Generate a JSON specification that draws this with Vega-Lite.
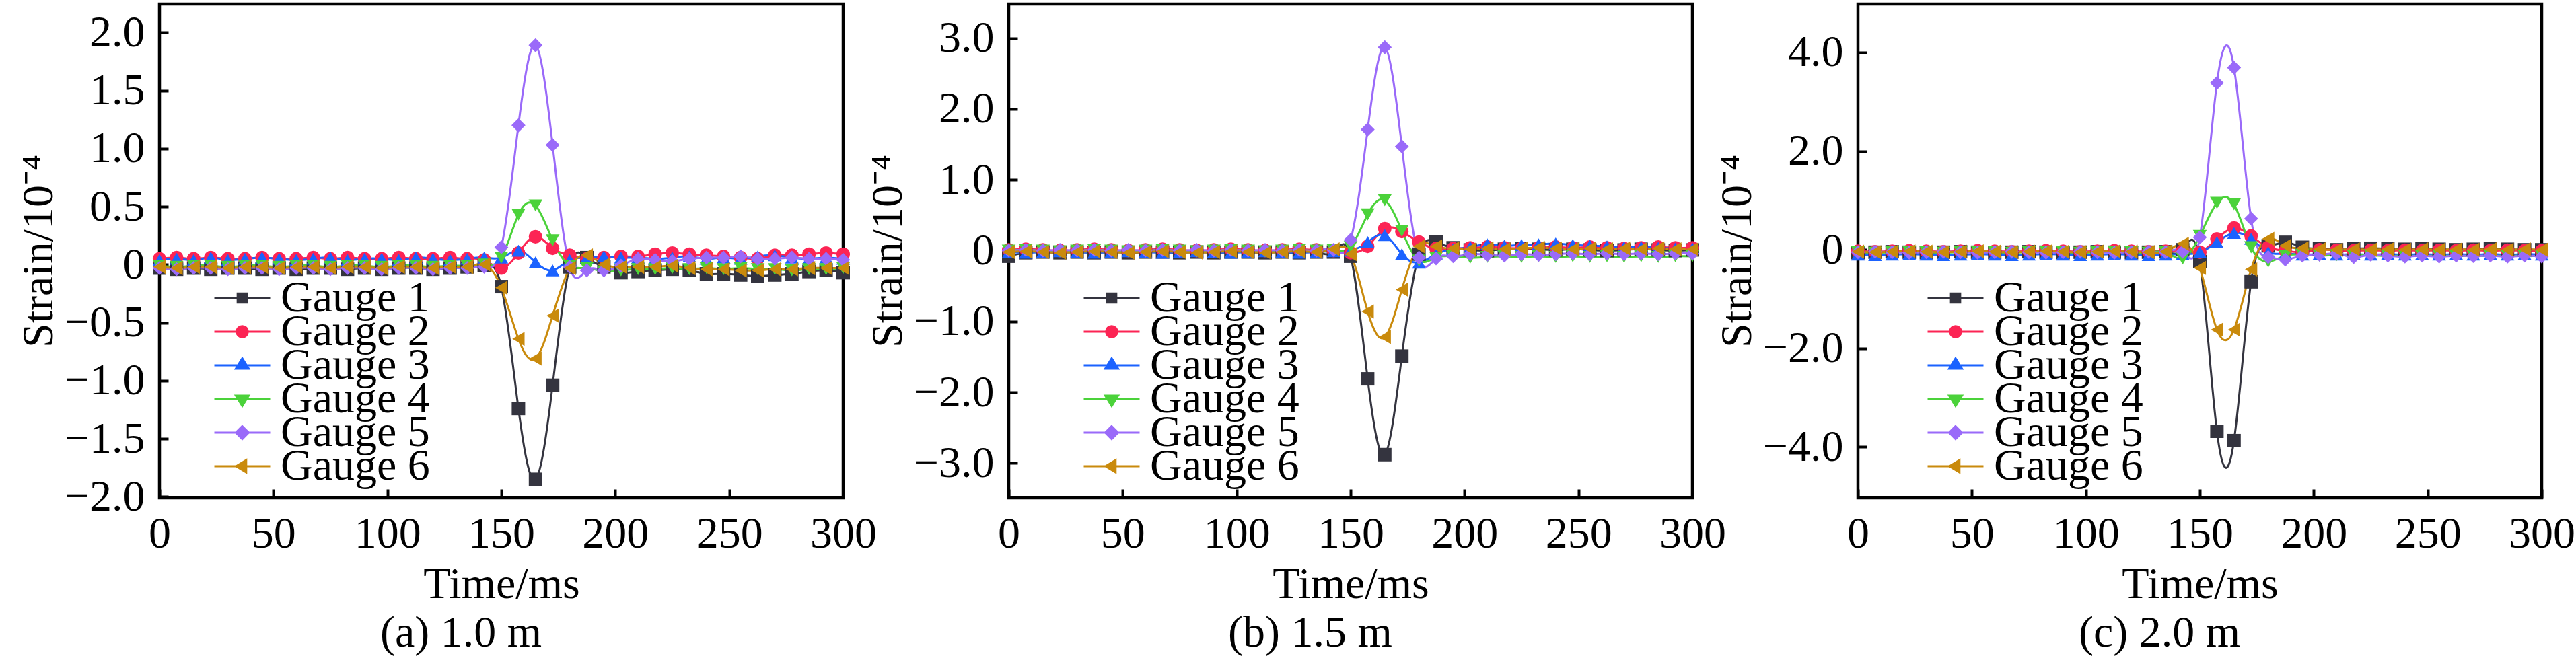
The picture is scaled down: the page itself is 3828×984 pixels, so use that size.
{
  "$schema": "https://vega.github.io/schema/vega-lite/v6.json",
  "padding": {"left": 22, "top": 3, "right": 0, "bottom": 4},
  "background": "white",
  "config": {
    "font": "Liberation Serif",
    "view": {"stroke": "black", "strokeWidth": 4.5},
    "axis": {
      "domain": false, "grid": false,
      "tickColor": "black", "tickWidth": 4, "tickSize": -13,
      "labelFont": "Liberation Serif", "labelFontSize": 66, "labelColor": "black",
      "labelFlush": false, "labelOverlap": false, "labelBound": false,
      "titleFont": "Liberation Serif", "titleFontSize": 66, "titleFontWeight": "normal", "titleColor": "black"
    },
    "axisX": {"labelPadding": 34, "titlePadding": 10, "titleFontWeight": "normal"},
    "axisY": {"labelPadding": 35, "titlePadding": 4, "titleFontWeight": "normal"},
    "title": {"font": "Liberation Serif", "fontSize": 66, "fontWeight": "normal", "color": "black", "orient": "bottom", "frame": "group", "dx": -60, "offset": 8},
    "legend": {
      "orient": "none", "direction": "vertical", "title": null, "padding": 0,
      "labelFont": "Liberation Serif", "labelFontSize": 66, "labelColor": "black", "labelOffset": 14, "labelLimit": 0,
      "symbolSize": 6889, "rowPadding": 0, "clipHeight": 100
    }
  },
  "datasets": {
    "a": [
      {"g":1,"t":0,"v":-0.03},{"g":1,"t":7.5,"v":-0.04},{"g":1,"t":15,"v":-0.03},{"g":1,"t":22.5,"v":-0.04},{"g":1,"t":30,"v":-0.03},{"g":1,"t":37.5,"v":-0.03},{"g":1,"t":45,"v":-0.04},{"g":1,"t":52.5,"v":-0.03},{"g":1,"t":60,"v":-0.04},{"g":1,"t":67.5,"v":-0.03},{"g":1,"t":75,"v":-0.03},{"g":1,"t":82.5,"v":-0.04},{"g":1,"t":90,"v":-0.03},{"g":1,"t":97.5,"v":-0.04},{"g":1,"t":105,"v":-0.03},{"g":1,"t":112.5,"v":-0.03},{"g":1,"t":120,"v":-0.04},{"g":1,"t":127.5,"v":-0.03},{"g":1,"t":135,"v":-0.02},{"g":1,"t":142.5,"v":-0.01},{"g":1,"t":150,"v":-0.19},{"g":1,"t":157.5,"v":-1.24},{"g":1,"t":165,"v":-1.85},{"g":1,"t":172.5,"v":-1.04},{"g":1,"t":180,"v":-0.02},{"g":1,"t":187.5,"v":0.06},{"g":1,"t":195,"v":-0.02},{"g":1,"t":202.5,"v":-0.07},{"g":1,"t":210,"v":-0.06},{"g":1,"t":217.5,"v":-0.05},{"g":1,"t":225,"v":-0.04},{"g":1,"t":232.5,"v":-0.05},{"g":1,"t":240,"v":-0.08},{"g":1,"t":247.5,"v":-0.08},{"g":1,"t":255,"v":-0.09},{"g":1,"t":262.5,"v":-0.1},{"g":1,"t":270,"v":-0.09},{"g":1,"t":277.5,"v":-0.08},{"g":1,"t":285,"v":-0.06},{"g":1,"t":292.5,"v":-0.05},{"g":1,"t":300,"v":-0.07},
      {"g":2,"t":0,"v":0.05},{"g":2,"t":7.5,"v":0.06},{"g":2,"t":15,"v":0.05},{"g":2,"t":22.5,"v":0.06},{"g":2,"t":30,"v":0.05},{"g":2,"t":37.5,"v":0.05},{"g":2,"t":45,"v":0.06},{"g":2,"t":52.5,"v":0.05},{"g":2,"t":60,"v":0.05},{"g":2,"t":67.5,"v":0.06},{"g":2,"t":75,"v":0.05},{"g":2,"t":82.5,"v":0.06},{"g":2,"t":90,"v":0.05},{"g":2,"t":97.5,"v":0.05},{"g":2,"t":105,"v":0.06},{"g":2,"t":112.5,"v":0.05},{"g":2,"t":120,"v":0.05},{"g":2,"t":127.5,"v":0.06},{"g":2,"t":135,"v":0.05},{"g":2,"t":142.5,"v":0.04},{"g":2,"t":150,"v":-0.03},{"g":2,"t":157.5,"v":0.1},{"g":2,"t":165,"v":0.24},{"g":2,"t":172.5,"v":0.14},{"g":2,"t":180,"v":0.08},{"g":2,"t":187.5,"v":0.05},{"g":2,"t":195,"v":0.06},{"g":2,"t":202.5,"v":0.07},{"g":2,"t":210,"v":0.07},{"g":2,"t":217.5,"v":0.09},{"g":2,"t":225,"v":0.1},{"g":2,"t":232.5,"v":0.09},{"g":2,"t":240,"v":0.08},{"g":2,"t":247.5,"v":0.07},{"g":2,"t":255,"v":0.06},{"g":2,"t":262.5,"v":0.05},{"g":2,"t":270,"v":0.08},{"g":2,"t":277.5,"v":0.08},{"g":2,"t":285,"v":0.09},{"g":2,"t":292.5,"v":0.1},{"g":2,"t":300,"v":0.09},
      {"g":3,"t":0,"v":0.04},{"g":3,"t":7.5,"v":0.05},{"g":3,"t":15,"v":0.04},{"g":3,"t":22.5,"v":0.06},{"g":3,"t":30,"v":0.04},{"g":3,"t":37.5,"v":0.05},{"g":3,"t":45,"v":0.06},{"g":3,"t":52.5,"v":0.05},{"g":3,"t":60,"v":0.04},{"g":3,"t":67.5,"v":0.05},{"g":3,"t":75,"v":0.06},{"g":3,"t":82.5,"v":0.04},{"g":3,"t":90,"v":0.05},{"g":3,"t":97.5,"v":0.05},{"g":3,"t":105,"v":0.04},{"g":3,"t":112.5,"v":0.06},{"g":3,"t":120,"v":0.05},{"g":3,"t":127.5,"v":0.04},{"g":3,"t":135,"v":0.05},{"g":3,"t":142.5,"v":0.06},{"g":3,"t":150,"v":0.06},{"g":3,"t":157.5,"v":0.12},{"g":3,"t":165,"v":0.02},{"g":3,"t":172.5,"v":-0.05},{"g":3,"t":180,"v":0.04},{"g":3,"t":187.5,"v":0.06},{"g":3,"t":195,"v":0.07},{"g":3,"t":202.5,"v":0.06},{"g":3,"t":210,"v":0.06},{"g":3,"t":217.5,"v":0.05},{"g":3,"t":225,"v":0.06},{"g":3,"t":232.5,"v":0.07},{"g":3,"t":240,"v":0.05},{"g":3,"t":247.5,"v":0.06},{"g":3,"t":255,"v":0.05},{"g":3,"t":262.5,"v":0.07},{"g":3,"t":270,"v":0.08},{"g":3,"t":277.5,"v":0.06},{"g":3,"t":285,"v":0.05},{"g":3,"t":292.5,"v":0.06},{"g":3,"t":300,"v":0.05},
      {"g":4,"t":0,"v":-0.01},{"g":4,"t":7.5,"v":-0.02},{"g":4,"t":15,"v":-0.01},{"g":4,"t":22.5,"v":-0.01},{"g":4,"t":30,"v":-0.02},{"g":4,"t":37.5,"v":-0.01},{"g":4,"t":45,"v":-0.01},{"g":4,"t":52.5,"v":-0.02},{"g":4,"t":60,"v":-0.01},{"g":4,"t":67.5,"v":-0.01},{"g":4,"t":75,"v":-0.02},{"g":4,"t":82.5,"v":-0.01},{"g":4,"t":90,"v":-0.01},{"g":4,"t":97.5,"v":-0.02},{"g":4,"t":105,"v":-0.01},{"g":4,"t":112.5,"v":-0.01},{"g":4,"t":120,"v":-0.02},{"g":4,"t":127.5,"v":-0.01},{"g":4,"t":135,"v":-0.01},{"g":4,"t":142.5,"v":0},{"g":4,"t":150,"v":0.06},{"g":4,"t":157.5,"v":0.43},{"g":4,"t":165,"v":0.51},{"g":4,"t":172.5,"v":0.21},{"g":4,"t":180,"v":-0.01},{"g":4,"t":187.5,"v":-0.03},{"g":4,"t":195,"v":-0.06},{"g":4,"t":202.5,"v":-0.05},{"g":4,"t":210,"v":-0.04},{"g":4,"t":217.5,"v":-0.04},{"g":4,"t":225,"v":-0.03},{"g":4,"t":232.5,"v":-0.04},{"g":4,"t":240,"v":-0.03},{"g":4,"t":247.5,"v":-0.04},{"g":4,"t":255,"v":-0.03},{"g":4,"t":262.5,"v":-0.04},{"g":4,"t":270,"v":-0.04},{"g":4,"t":277.5,"v":-0.05},{"g":4,"t":285,"v":-0.04},{"g":4,"t":292.5,"v":-0.04},{"g":4,"t":300,"v":-0.03},
      {"g":5,"t":0,"v":-0.03},{"g":5,"t":7.5,"v":-0.04},{"g":5,"t":15,"v":-0.03},{"g":5,"t":22.5,"v":-0.03},{"g":5,"t":30,"v":-0.04},{"g":5,"t":37.5,"v":-0.03},{"g":5,"t":45,"v":-0.03},{"g":5,"t":52.5,"v":-0.04},{"g":5,"t":60,"v":-0.03},{"g":5,"t":67.5,"v":-0.03},{"g":5,"t":75,"v":-0.04},{"g":5,"t":82.5,"v":-0.03},{"g":5,"t":90,"v":-0.03},{"g":5,"t":97.5,"v":-0.04},{"g":5,"t":105,"v":-0.03},{"g":5,"t":112.5,"v":-0.03},{"g":5,"t":120,"v":-0.04},{"g":5,"t":127.5,"v":-0.03},{"g":5,"t":135,"v":-0.03},{"g":5,"t":142.5,"v":-0.02},{"g":5,"t":150,"v":0.15},{"g":5,"t":157.5,"v":1.2},{"g":5,"t":165,"v":1.89},{"g":5,"t":172.5,"v":1.03},{"g":5,"t":180,"v":-0.02},{"g":5,"t":187.5,"v":-0.05},{"g":5,"t":195,"v":-0.05},{"g":5,"t":202.5,"v":-0.01},{"g":5,"t":210,"v":0.05},{"g":5,"t":217.5,"v":0.04},{"g":5,"t":225,"v":0.03},{"g":5,"t":232.5,"v":0.05},{"g":5,"t":240,"v":0.06},{"g":5,"t":247.5,"v":0.06},{"g":5,"t":255,"v":0.07},{"g":5,"t":262.5,"v":0.05},{"g":5,"t":270,"v":0.05},{"g":5,"t":277.5,"v":0.06},{"g":5,"t":285,"v":0.05},{"g":5,"t":292.5,"v":0.05},{"g":5,"t":300,"v":0.04},
      {"g":6,"t":0,"v":-0.02},{"g":6,"t":7.5,"v":-0.03},{"g":6,"t":15,"v":-0.02},{"g":6,"t":22.5,"v":-0.02},{"g":6,"t":30,"v":-0.03},{"g":6,"t":37.5,"v":-0.02},{"g":6,"t":45,"v":-0.02},{"g":6,"t":52.5,"v":-0.03},{"g":6,"t":60,"v":-0.02},{"g":6,"t":67.5,"v":-0.02},{"g":6,"t":75,"v":-0.03},{"g":6,"t":82.5,"v":-0.02},{"g":6,"t":90,"v":-0.02},{"g":6,"t":97.5,"v":-0.03},{"g":6,"t":105,"v":-0.02},{"g":6,"t":112.5,"v":-0.02},{"g":6,"t":120,"v":-0.03},{"g":6,"t":127.5,"v":-0.02},{"g":6,"t":135,"v":-0.02},{"g":6,"t":142.5,"v":0},{"g":6,"t":150,"v":-0.2},{"g":6,"t":157.5,"v":-0.64},{"g":6,"t":165,"v":-0.81},{"g":6,"t":172.5,"v":-0.44},{"g":6,"t":180,"v":-0.03},{"g":6,"t":187.5,"v":0.08},{"g":6,"t":195,"v":0},{"g":6,"t":202.5,"v":-0.02},{"g":6,"t":210,"v":-0.02},{"g":6,"t":217.5,"v":-0.02},{"g":6,"t":225,"v":-0.01},{"g":6,"t":232.5,"v":-0.03},{"g":6,"t":240,"v":-0.04},{"g":6,"t":247.5,"v":-0.04},{"g":6,"t":255,"v":-0.05},{"g":6,"t":262.5,"v":-0.05},{"g":6,"t":270,"v":-0.04},{"g":6,"t":277.5,"v":-0.04},{"g":6,"t":285,"v":-0.03},{"g":6,"t":292.5,"v":-0.03},{"g":6,"t":300,"v":-0.03}
    ],
    "b": [
      {"g":1,"t":0,"v":-0.08},{"g":1,"t":7.5,"v":-0.03},{"g":1,"t":15,"v":-0.02},{"g":1,"t":22.5,"v":-0.03},{"g":1,"t":30,"v":-0.02},{"g":1,"t":37.5,"v":-0.03},{"g":1,"t":45,"v":-0.02},{"g":1,"t":52.5,"v":-0.03},{"g":1,"t":60,"v":-0.02},{"g":1,"t":67.5,"v":-0.02},{"g":1,"t":75,"v":-0.03},{"g":1,"t":82.5,"v":-0.02},{"g":1,"t":90,"v":-0.03},{"g":1,"t":97.5,"v":-0.02},{"g":1,"t":105,"v":-0.02},{"g":1,"t":112.5,"v":-0.03},{"g":1,"t":120,"v":-0.02},{"g":1,"t":127.5,"v":-0.03},{"g":1,"t":135,"v":-0.02},{"g":1,"t":142.5,"v":-0.02},{"g":1,"t":150,"v":-0.08},{"g":1,"t":157.5,"v":-1.81},{"g":1,"t":165,"v":-2.88},{"g":1,"t":172.5,"v":-1.49},{"g":1,"t":180,"v":-0.05},{"g":1,"t":187.5,"v":0.12},{"g":1,"t":195,"v":0.04},{"g":1,"t":202.5,"v":0.01},{"g":1,"t":210,"v":0},{"g":1,"t":217.5,"v":0.02},{"g":1,"t":225,"v":0.03},{"g":1,"t":232.5,"v":0.02},{"g":1,"t":240,"v":0.01},{"g":1,"t":247.5,"v":0.02},{"g":1,"t":255,"v":0.01},{"g":1,"t":262.5,"v":0},{"g":1,"t":270,"v":0.01},{"g":1,"t":277.5,"v":0.02},{"g":1,"t":285,"v":0.01},{"g":1,"t":292.5,"v":0},{"g":1,"t":300,"v":0.01},
      {"g":2,"t":0,"v":0.01},{"g":2,"t":7.5,"v":0.02},{"g":2,"t":15,"v":0.01},{"g":2,"t":22.5,"v":0},{"g":2,"t":30,"v":0.01},{"g":2,"t":37.5,"v":0.02},{"g":2,"t":45,"v":0.01},{"g":2,"t":52.5,"v":0},{"g":2,"t":60,"v":0.01},{"g":2,"t":67.5,"v":0.02},{"g":2,"t":75,"v":0.01},{"g":2,"t":82.5,"v":0},{"g":2,"t":90,"v":0.01},{"g":2,"t":97.5,"v":0.02},{"g":2,"t":105,"v":0.01},{"g":2,"t":112.5,"v":0},{"g":2,"t":120,"v":0.01},{"g":2,"t":127.5,"v":0.02},{"g":2,"t":135,"v":0.01},{"g":2,"t":142.5,"v":0},{"g":2,"t":150,"v":-0.03},{"g":2,"t":157.5,"v":0.06},{"g":2,"t":165,"v":0.31},{"g":2,"t":172.5,"v":0.27},{"g":2,"t":180,"v":0.12},{"g":2,"t":187.5,"v":0.03},{"g":2,"t":195,"v":0.03},{"g":2,"t":202.5,"v":0.04},{"g":2,"t":210,"v":0.05},{"g":2,"t":217.5,"v":0.04},{"g":2,"t":225,"v":0.03},{"g":2,"t":232.5,"v":0.04},{"g":2,"t":240,"v":0.05},{"g":2,"t":247.5,"v":0.04},{"g":2,"t":255,"v":0.05},{"g":2,"t":262.5,"v":0.04},{"g":2,"t":270,"v":0.03},{"g":2,"t":277.5,"v":0.04},{"g":2,"t":285,"v":0.05},{"g":2,"t":292.5,"v":0.04},{"g":2,"t":300,"v":0.04},
      {"g":3,"t":0,"v":-0.02},{"g":3,"t":7.5,"v":-0.03},{"g":3,"t":15,"v":-0.02},{"g":3,"t":22.5,"v":-0.01},{"g":3,"t":30,"v":-0.02},{"g":3,"t":37.5,"v":-0.03},{"g":3,"t":45,"v":-0.02},{"g":3,"t":52.5,"v":-0.01},{"g":3,"t":60,"v":-0.02},{"g":3,"t":67.5,"v":-0.03},{"g":3,"t":75,"v":-0.02},{"g":3,"t":82.5,"v":-0.01},{"g":3,"t":90,"v":-0.02},{"g":3,"t":97.5,"v":-0.03},{"g":3,"t":105,"v":-0.02},{"g":3,"t":112.5,"v":-0.01},{"g":3,"t":120,"v":-0.02},{"g":3,"t":127.5,"v":-0.03},{"g":3,"t":135,"v":-0.02},{"g":3,"t":142.5,"v":-0.01},{"g":3,"t":150,"v":0},{"g":3,"t":157.5,"v":0.12},{"g":3,"t":165,"v":0.22},{"g":3,"t":172.5,"v":-0.05},{"g":3,"t":180,"v":-0.17},{"g":3,"t":187.5,"v":-0.05},{"g":3,"t":195,"v":0.02},{"g":3,"t":202.5,"v":0.05},{"g":3,"t":210,"v":0.09},{"g":3,"t":217.5,"v":0.07},{"g":3,"t":225,"v":0.08},{"g":3,"t":232.5,"v":0.09},{"g":3,"t":240,"v":0.1},{"g":3,"t":247.5,"v":0.08},{"g":3,"t":255,"v":0.07},{"g":3,"t":262.5,"v":0.06},{"g":3,"t":270,"v":0.05},{"g":3,"t":277.5,"v":0.05},{"g":3,"t":285,"v":0.04},{"g":3,"t":292.5,"v":0.03},{"g":3,"t":300,"v":0.03},
      {"g":4,"t":0,"v":0},{"g":4,"t":7.5,"v":0.01},{"g":4,"t":15,"v":0},{"g":4,"t":22.5,"v":-0.01},{"g":4,"t":30,"v":0},{"g":4,"t":37.5,"v":0.01},{"g":4,"t":45,"v":0},{"g":4,"t":52.5,"v":-0.01},{"g":4,"t":60,"v":0},{"g":4,"t":67.5,"v":0.01},{"g":4,"t":75,"v":0},{"g":4,"t":82.5,"v":-0.01},{"g":4,"t":90,"v":0},{"g":4,"t":97.5,"v":0.01},{"g":4,"t":105,"v":0},{"g":4,"t":112.5,"v":-0.01},{"g":4,"t":120,"v":0},{"g":4,"t":127.5,"v":0.01},{"g":4,"t":135,"v":0},{"g":4,"t":142.5,"v":0.01},{"g":4,"t":150,"v":0.05},{"g":4,"t":157.5,"v":0.51},{"g":4,"t":165,"v":0.71},{"g":4,"t":172.5,"v":0.28},{"g":4,"t":180,"v":-0.14},{"g":4,"t":187.5,"v":-0.1},{"g":4,"t":195,"v":-0.08},{"g":4,"t":202.5,"v":-0.1},{"g":4,"t":210,"v":-0.09},{"g":4,"t":217.5,"v":-0.08},{"g":4,"t":225,"v":-0.09},{"g":4,"t":232.5,"v":-0.08},{"g":4,"t":240,"v":-0.09},{"g":4,"t":247.5,"v":-0.08},{"g":4,"t":255,"v":-0.09},{"g":4,"t":262.5,"v":-0.08},{"g":4,"t":270,"v":-0.09},{"g":4,"t":277.5,"v":-0.08},{"g":4,"t":285,"v":-0.09},{"g":4,"t":292.5,"v":-0.08},{"g":4,"t":300,"v":-0.08},
      {"g":5,"t":0,"v":0},{"g":5,"t":7.5,"v":0.01},{"g":5,"t":15,"v":0},{"g":5,"t":22.5,"v":0.01},{"g":5,"t":30,"v":0},{"g":5,"t":37.5,"v":0.01},{"g":5,"t":45,"v":0},{"g":5,"t":52.5,"v":0.01},{"g":5,"t":60,"v":0},{"g":5,"t":67.5,"v":0.01},{"g":5,"t":75,"v":0},{"g":5,"t":82.5,"v":0.01},{"g":5,"t":90,"v":0},{"g":5,"t":97.5,"v":0.01},{"g":5,"t":105,"v":0},{"g":5,"t":112.5,"v":0.01},{"g":5,"t":120,"v":0},{"g":5,"t":127.5,"v":0.01},{"g":5,"t":135,"v":0},{"g":5,"t":142.5,"v":0.01},{"g":5,"t":150,"v":0.15},{"g":5,"t":157.5,"v":1.71},{"g":5,"t":165,"v":2.87},{"g":5,"t":172.5,"v":1.47},{"g":5,"t":180,"v":-0.1},{"g":5,"t":187.5,"v":-0.11},{"g":5,"t":195,"v":-0.08},{"g":5,"t":202.5,"v":-0.05},{"g":5,"t":210,"v":-0.06},{"g":5,"t":217.5,"v":-0.07},{"g":5,"t":225,"v":-0.05},{"g":5,"t":232.5,"v":-0.06},{"g":5,"t":240,"v":-0.05},{"g":5,"t":247.5,"v":-0.04},{"g":5,"t":255,"v":-0.05},{"g":5,"t":262.5,"v":-0.04},{"g":5,"t":270,"v":-0.05},{"g":5,"t":277.5,"v":-0.04},{"g":5,"t":285,"v":-0.05},{"g":5,"t":292.5,"v":-0.04},{"g":5,"t":300,"v":-0.04},
      {"g":6,"t":0,"v":-0.02},{"g":6,"t":7.5,"v":-0.01},{"g":6,"t":15,"v":-0.02},{"g":6,"t":22.5,"v":-0.03},{"g":6,"t":30,"v":-0.02},{"g":6,"t":37.5,"v":-0.01},{"g":6,"t":45,"v":-0.02},{"g":6,"t":52.5,"v":-0.03},{"g":6,"t":60,"v":-0.02},{"g":6,"t":67.5,"v":-0.01},{"g":6,"t":75,"v":-0.02},{"g":6,"t":82.5,"v":-0.03},{"g":6,"t":90,"v":-0.02},{"g":6,"t":97.5,"v":-0.01},{"g":6,"t":105,"v":-0.02},{"g":6,"t":112.5,"v":-0.03},{"g":6,"t":120,"v":-0.02},{"g":6,"t":127.5,"v":-0.01},{"g":6,"t":135,"v":-0.02},{"g":6,"t":142.5,"v":0.02},{"g":6,"t":150,"v":-0.05},{"g":6,"t":157.5,"v":-0.86},{"g":6,"t":165,"v":-1.22},{"g":6,"t":172.5,"v":-0.55},{"g":6,"t":180,"v":0.06},{"g":6,"t":187.5,"v":0.06},{"g":6,"t":195,"v":0.03},{"g":6,"t":202.5,"v":0.02},{"g":6,"t":210,"v":0.03},{"g":6,"t":217.5,"v":0.02},{"g":6,"t":225,"v":0.03},{"g":6,"t":232.5,"v":0.04},{"g":6,"t":240,"v":0.03},{"g":6,"t":247.5,"v":0.02},{"g":6,"t":255,"v":0.03},{"g":6,"t":262.5,"v":0.02},{"g":6,"t":270,"v":0.03},{"g":6,"t":277.5,"v":0.02},{"g":6,"t":285,"v":0.03},{"g":6,"t":292.5,"v":0.02},{"g":6,"t":300,"v":0.02}
    ],
    "c": [
      {"g":1,"t":0,"v":-0.06},{"g":1,"t":7.5,"v":-0.05},{"g":1,"t":15,"v":-0.04},{"g":1,"t":22.5,"v":-0.05},{"g":1,"t":30,"v":-0.06},{"g":1,"t":37.5,"v":-0.05},{"g":1,"t":45,"v":-0.04},{"g":1,"t":52.5,"v":-0.05},{"g":1,"t":60,"v":-0.06},{"g":1,"t":67.5,"v":-0.05},{"g":1,"t":75,"v":-0.04},{"g":1,"t":82.5,"v":-0.05},{"g":1,"t":90,"v":-0.06},{"g":1,"t":97.5,"v":-0.05},{"g":1,"t":105,"v":-0.04},{"g":1,"t":112.5,"v":-0.05},{"g":1,"t":120,"v":-0.06},{"g":1,"t":127.5,"v":-0.05},{"g":1,"t":135,"v":-0.04},{"g":1,"t":142.5,"v":0},{"g":1,"t":150,"v":-0.24},{"g":1,"t":157.5,"v":-3.68},{"g":1,"t":165,"v":-3.87},{"g":1,"t":172.5,"v":-0.65},{"g":1,"t":180,"v":0.08},{"g":1,"t":187.5,"v":0.15},{"g":1,"t":195,"v":0.05},{"g":1,"t":202.5,"v":0.02},{"g":1,"t":210,"v":0},{"g":1,"t":217.5,"v":0.02},{"g":1,"t":225,"v":0.03},{"g":1,"t":232.5,"v":0.02},{"g":1,"t":240,"v":0.01},{"g":1,"t":247.5,"v":0.02},{"g":1,"t":255,"v":0.01},{"g":1,"t":262.5,"v":0},{"g":1,"t":270,"v":0.01},{"g":1,"t":277.5,"v":0.02},{"g":1,"t":285,"v":0.01},{"g":1,"t":292.5,"v":0},{"g":1,"t":300,"v":0},
      {"g":2,"t":0,"v":-0.03},{"g":2,"t":7.5,"v":-0.04},{"g":2,"t":15,"v":-0.03},{"g":2,"t":22.5,"v":-0.02},{"g":2,"t":30,"v":-0.03},{"g":2,"t":37.5,"v":-0.04},{"g":2,"t":45,"v":-0.03},{"g":2,"t":52.5,"v":-0.02},{"g":2,"t":60,"v":-0.03},{"g":2,"t":67.5,"v":-0.04},{"g":2,"t":75,"v":-0.03},{"g":2,"t":82.5,"v":-0.02},{"g":2,"t":90,"v":-0.03},{"g":2,"t":97.5,"v":-0.04},{"g":2,"t":105,"v":-0.03},{"g":2,"t":112.5,"v":-0.02},{"g":2,"t":120,"v":-0.03},{"g":2,"t":127.5,"v":-0.04},{"g":2,"t":135,"v":-0.03},{"g":2,"t":142.5,"v":-0.02},{"g":2,"t":150,"v":-0.05},{"g":2,"t":157.5,"v":0.22},{"g":2,"t":165,"v":0.44},{"g":2,"t":172.5,"v":0.28},{"g":2,"t":180,"v":0.05},{"g":2,"t":187.5,"v":-0.02},{"g":2,"t":195,"v":-0.05},{"g":2,"t":202.5,"v":0},{"g":2,"t":210,"v":-0.01},{"g":2,"t":217.5,"v":-0.02},{"g":2,"t":225,"v":-0.01},{"g":2,"t":232.5,"v":-0.02},{"g":2,"t":240,"v":-0.01},{"g":2,"t":247.5,"v":-0.02},{"g":2,"t":255,"v":-0.01},{"g":2,"t":262.5,"v":-0.02},{"g":2,"t":270,"v":-0.01},{"g":2,"t":277.5,"v":-0.02},{"g":2,"t":285,"v":-0.01},{"g":2,"t":292.5,"v":-0.02},{"g":2,"t":300,"v":-0.02},
      {"g":3,"t":0,"v":-0.1},{"g":3,"t":7.5,"v":-0.11},{"g":3,"t":15,"v":-0.1},{"g":3,"t":22.5,"v":-0.09},{"g":3,"t":30,"v":-0.1},{"g":3,"t":37.5,"v":-0.11},{"g":3,"t":45,"v":-0.1},{"g":3,"t":52.5,"v":-0.09},{"g":3,"t":60,"v":-0.1},{"g":3,"t":67.5,"v":-0.11},{"g":3,"t":75,"v":-0.1},{"g":3,"t":82.5,"v":-0.09},{"g":3,"t":90,"v":-0.1},{"g":3,"t":97.5,"v":-0.11},{"g":3,"t":105,"v":-0.1},{"g":3,"t":112.5,"v":-0.09},{"g":3,"t":120,"v":-0.1},{"g":3,"t":127.5,"v":-0.11},{"g":3,"t":135,"v":-0.1},{"g":3,"t":142.5,"v":-0.09},{"g":3,"t":150,"v":-0.05},{"g":3,"t":157.5,"v":0.15},{"g":3,"t":165,"v":0.34},{"g":3,"t":172.5,"v":0.22},{"g":3,"t":180,"v":-0.05},{"g":3,"t":187.5,"v":-0.08},{"g":3,"t":195,"v":-0.1},{"g":3,"t":202.5,"v":-0.09},{"g":3,"t":210,"v":-0.1},{"g":3,"t":217.5,"v":-0.09},{"g":3,"t":225,"v":-0.1},{"g":3,"t":232.5,"v":-0.09},{"g":3,"t":240,"v":-0.1},{"g":3,"t":247.5,"v":-0.09},{"g":3,"t":255,"v":-0.1},{"g":3,"t":262.5,"v":-0.09},{"g":3,"t":270,"v":-0.1},{"g":3,"t":277.5,"v":-0.09},{"g":3,"t":285,"v":-0.1},{"g":3,"t":292.5,"v":-0.09},{"g":3,"t":300,"v":-0.1},
      {"g":4,"t":0,"v":-0.05},{"g":4,"t":7.5,"v":-0.06},{"g":4,"t":15,"v":-0.05},{"g":4,"t":22.5,"v":-0.04},{"g":4,"t":30,"v":-0.05},{"g":4,"t":37.5,"v":-0.06},{"g":4,"t":45,"v":-0.05},{"g":4,"t":52.5,"v":-0.04},{"g":4,"t":60,"v":-0.05},{"g":4,"t":67.5,"v":-0.06},{"g":4,"t":75,"v":-0.05},{"g":4,"t":82.5,"v":-0.04},{"g":4,"t":90,"v":-0.05},{"g":4,"t":97.5,"v":-0.06},{"g":4,"t":105,"v":-0.05},{"g":4,"t":112.5,"v":-0.04},{"g":4,"t":120,"v":-0.05},{"g":4,"t":127.5,"v":-0.06},{"g":4,"t":135,"v":-0.05},{"g":4,"t":142.5,"v":-0.18},{"g":4,"t":150,"v":0.28},{"g":4,"t":157.5,"v":0.95},{"g":4,"t":165,"v":0.92},{"g":4,"t":172.5,"v":0.05},{"g":4,"t":180,"v":-0.24},{"g":4,"t":187.5,"v":-0.12},{"g":4,"t":195,"v":-0.1},{"g":4,"t":202.5,"v":-0.12},{"g":4,"t":210,"v":-0.11},{"g":4,"t":217.5,"v":-0.12},{"g":4,"t":225,"v":-0.11},{"g":4,"t":232.5,"v":-0.13},{"g":4,"t":240,"v":-0.12},{"g":4,"t":247.5,"v":-0.13},{"g":4,"t":255,"v":-0.12},{"g":4,"t":262.5,"v":-0.13},{"g":4,"t":270,"v":-0.12},{"g":4,"t":277.5,"v":-0.13},{"g":4,"t":285,"v":-0.12},{"g":4,"t":292.5,"v":-0.13},{"g":4,"t":300,"v":-0.12},
      {"g":5,"t":0,"v":-0.05},{"g":5,"t":7.5,"v":-0.04},{"g":5,"t":15,"v":-0.05},{"g":5,"t":22.5,"v":-0.06},{"g":5,"t":30,"v":-0.05},{"g":5,"t":37.5,"v":-0.04},{"g":5,"t":45,"v":-0.05},{"g":5,"t":52.5,"v":-0.06},{"g":5,"t":60,"v":-0.05},{"g":5,"t":67.5,"v":-0.04},{"g":5,"t":75,"v":-0.05},{"g":5,"t":82.5,"v":-0.06},{"g":5,"t":90,"v":-0.05},{"g":5,"t":97.5,"v":-0.04},{"g":5,"t":105,"v":-0.05},{"g":5,"t":112.5,"v":-0.06},{"g":5,"t":120,"v":-0.05},{"g":5,"t":127.5,"v":-0.04},{"g":5,"t":135,"v":-0.05},{"g":5,"t":142.5,"v":-0.04},{"g":5,"t":150,"v":0.25},{"g":5,"t":157.5,"v":3.38},{"g":5,"t":165,"v":3.69},{"g":5,"t":172.5,"v":0.63},{"g":5,"t":180,"v":-0.15},{"g":5,"t":187.5,"v":-0.2},{"g":5,"t":195,"v":-0.12},{"g":5,"t":202.5,"v":-0.1},{"g":5,"t":210,"v":-0.08},{"g":5,"t":217.5,"v":-0.15},{"g":5,"t":225,"v":-0.1},{"g":5,"t":232.5,"v":-0.12},{"g":5,"t":240,"v":-0.14},{"g":5,"t":247.5,"v":-0.12},{"g":5,"t":255,"v":-0.14},{"g":5,"t":262.5,"v":-0.12},{"g":5,"t":270,"v":-0.13},{"g":5,"t":277.5,"v":-0.12},{"g":5,"t":285,"v":-0.14},{"g":5,"t":292.5,"v":-0.12},{"g":5,"t":300,"v":-0.14},
      {"g":6,"t":0,"v":-0.04},{"g":6,"t":7.5,"v":-0.05},{"g":6,"t":15,"v":-0.04},{"g":6,"t":22.5,"v":-0.03},{"g":6,"t":30,"v":-0.04},{"g":6,"t":37.5,"v":-0.05},{"g":6,"t":45,"v":-0.04},{"g":6,"t":52.5,"v":-0.03},{"g":6,"t":60,"v":-0.04},{"g":6,"t":67.5,"v":-0.05},{"g":6,"t":75,"v":-0.04},{"g":6,"t":82.5,"v":-0.03},{"g":6,"t":90,"v":-0.04},{"g":6,"t":97.5,"v":-0.05},{"g":6,"t":105,"v":-0.04},{"g":6,"t":112.5,"v":-0.03},{"g":6,"t":120,"v":-0.04},{"g":6,"t":127.5,"v":-0.05},{"g":6,"t":135,"v":-0.04},{"g":6,"t":142.5,"v":0.12},{"g":6,"t":150,"v":-0.37},{"g":6,"t":157.5,"v":-1.62},{"g":6,"t":165,"v":-1.62},{"g":6,"t":172.5,"v":-0.4},{"g":6,"t":180,"v":0.22},{"g":6,"t":187.5,"v":0.08},{"g":6,"t":195,"v":0.03},{"g":6,"t":202.5,"v":0.01},{"g":6,"t":210,"v":0},{"g":6,"t":217.5,"v":0.01},{"g":6,"t":225,"v":0},{"g":6,"t":232.5,"v":0.01},{"g":6,"t":240,"v":0},{"g":6,"t":247.5,"v":0.01},{"g":6,"t":255,"v":0},{"g":6,"t":262.5,"v":0.01},{"g":6,"t":270,"v":0},{"g":6,"t":277.5,"v":0.01},{"g":6,"t":285,"v":0},{"g":6,"t":292.5,"v":0.01},{"g":6,"t":300,"v":0}
    ]
  },
  "spacing": 246,
  "bounds": "flush",
  "resolve": {
    "scale": {"x": "independent", "y": "independent"},
    "legend": {"stroke": "independent", "fill": "independent"}
  },
  "hconcat": [
    {
      "title": {"text": "(a) 1.0 m"},
      "width": 1016, "height": 734,
      "data": {"name": "a"},
      "encoding": {
        "x": {"field": "t", "type": "quantitative", "scale": {"domain": [0, 300], "nice": false}, "axis": {"values": [0, 50, 100, 150, 200, 250, 300], "title": "Time/ms", "titleFontWeight": "normal"}},
        "y": {"field": "v", "type": "quantitative", "scale": {"domain": [-2.01, 2.245], "nice": false, "zero": false}, "axis": {"values": [-2, -1.5, -1, -0.5, 0, 0.5, 1, 1.5, 2], "title": "Strain/10⁻⁴", "titleFontWeight": "normal", "labelExpr": "datum.value == 0 ? '0' : format(datum.value, '.1f')"}}
      },
      "layer": [
        {
          "mark": {"type": "line", "interpolate": "natural", "strokeWidth": 3},
          "encoding": {
            "stroke": {"field": "g", "type": "nominal", "scale": {"domain": [1, 2, 3, 4, 5, 6], "range": ["#34343f", "#fc2454", "#1b62ff", "#4bd23a", "#9a6af9", "#c98a0c"]}, "legend": {
              "legendX": 80, "legendY": 387, "values": [1, 3, 5],
              "labelExpr": "'Gauge ' + datum.label",
              "encoding": {"symbols": {
                "shape": {"value": {"expr": "datum.value == 1 ? 'M-1,0H1M-0.165,-0.165H0.165V0.165H-0.165Z' : datum.value == 2 ? 'M-1,0H1M0.2,0A0.2,0.2,0,1,1,-0.2,0A0.2,0.2,0,1,1,0.2,0Z' : datum.value == 3 ? 'M-1,0H1M0,-0.25L0.23,0.12H-0.23Z' : datum.value == 4 ? 'M-1,0H1M0,0.25L0.23,-0.12H-0.23Z' : datum.value == 5 ? 'M-1,0H1M0,-0.23L0.23,0L0,0.23L-0.23,0Z' : 'M-1,0H1M-0.22,0L0.14,-0.22V0.22Z'"}},
                "fill": {"value": {"expr": "['#34343f', '#fc2454', '#1b62ff', '#4bd23a', '#9a6af9', '#c98a0c'][datum.value - 1]"}},
                "stroke": {"value": {"expr": "['#34343f', '#fc2454', '#1b62ff', '#4bd23a', '#9a6af9', '#c98a0c'][datum.value - 1]"}},
                "strokeWidth": {"value": 3},
                "opacity": {"value": 1}
              }}
            }}
          }
        },
        {
          "mark": {"type": "point", "filled": true, "opacity": 1},
          "encoding": {
            "fill": {"field": "g", "type": "nominal", "scale": {"domain": [2, 4, 6, 1, 3, 5], "range": ["#fc2454", "#4bd23a", "#c98a0c", "#34343f", "#1b62ff", "#9a6af9"]}, "legend": {
              "legendX": 80, "legendY": 437, "values": [2, 4, 6],
              "labelExpr": "'Gauge ' + datum.label",
              "encoding": {"symbols": {
                "shape": {"value": {"expr": "datum.value == 1 ? 'M-1,0H1M-0.165,-0.165H0.165V0.165H-0.165Z' : datum.value == 2 ? 'M-1,0H1M0.2,0A0.2,0.2,0,1,1,-0.2,0A0.2,0.2,0,1,1,0.2,0Z' : datum.value == 3 ? 'M-1,0H1M0,-0.25L0.23,0.12H-0.23Z' : datum.value == 4 ? 'M-1,0H1M0,0.25L0.23,-0.12H-0.23Z' : datum.value == 5 ? 'M-1,0H1M0,-0.23L0.23,0L0,0.23L-0.23,0Z' : 'M-1,0H1M-0.22,0L0.14,-0.22V0.22Z'"}},
                "fill": {"value": {"expr": "['#34343f', '#fc2454', '#1b62ff', '#4bd23a', '#9a6af9', '#c98a0c'][datum.value - 1]"}},
                "stroke": {"value": {"expr": "['#34343f', '#fc2454', '#1b62ff', '#4bd23a', '#9a6af9', '#c98a0c'][datum.value - 1]"}},
                "strokeWidth": {"value": 3},
                "opacity": {"value": 1}
              }}
            }},
            "shape": {"field": "g", "type": "nominal", "scale": {"domain": [1, 2, 3, 4, 5, 6], "range": ["square", "circle", "triangle-up", "triangle-down", "diamond", "triangle-left"]}, "legend": null},
            "size": {"field": "g", "type": "nominal", "scale": {"domain": [1, 2, 3, 4, 5, 6], "range": [400, 440, 620, 620, 560, 620]}, "legend": null}
          }
        }
      ]
    },
    {
      "title": {"text": "(b) 1.5 m"},
      "width": 1016, "height": 734,
      "data": {"name": "b"},
      "encoding": {
        "x": {"field": "t", "type": "quantitative", "scale": {"domain": [0, 300], "nice": false}, "axis": {"values": [0, 50, 100, 150, 200, 250, 300], "title": "Time/ms", "titleFontWeight": "normal"}},
        "y": {"field": "v", "type": "quantitative", "scale": {"domain": [-3.49, 3.48], "nice": false, "zero": false}, "axis": {"values": [-3, -2, -1, 0, 1, 2, 3], "title": "Strain/10⁻⁴", "titleFontWeight": "normal", "labelExpr": "datum.value == 0 ? '0' : format(datum.value, '.1f')"}}
      },
      "layer": [
        {
          "mark": {"type": "line", "interpolate": "natural", "strokeWidth": 3},
          "encoding": {
            "stroke": {"field": "g", "type": "nominal", "scale": {"domain": [1, 2, 3, 4, 5, 6], "range": ["#34343f", "#fc2454", "#1b62ff", "#4bd23a", "#9a6af9", "#c98a0c"]}, "legend": {
              "legendX": 110, "legendY": 387, "values": [1, 3, 5],
              "labelExpr": "'Gauge ' + datum.label",
              "encoding": {"symbols": {
                "shape": {"value": {"expr": "datum.value == 1 ? 'M-1,0H1M-0.165,-0.165H0.165V0.165H-0.165Z' : datum.value == 2 ? 'M-1,0H1M0.2,0A0.2,0.2,0,1,1,-0.2,0A0.2,0.2,0,1,1,0.2,0Z' : datum.value == 3 ? 'M-1,0H1M0,-0.25L0.23,0.12H-0.23Z' : datum.value == 4 ? 'M-1,0H1M0,0.25L0.23,-0.12H-0.23Z' : datum.value == 5 ? 'M-1,0H1M0,-0.23L0.23,0L0,0.23L-0.23,0Z' : 'M-1,0H1M-0.22,0L0.14,-0.22V0.22Z'"}},
                "fill": {"value": {"expr": "['#34343f', '#fc2454', '#1b62ff', '#4bd23a', '#9a6af9', '#c98a0c'][datum.value - 1]"}},
                "stroke": {"value": {"expr": "['#34343f', '#fc2454', '#1b62ff', '#4bd23a', '#9a6af9', '#c98a0c'][datum.value - 1]"}},
                "strokeWidth": {"value": 3},
                "opacity": {"value": 1}
              }}
            }}
          }
        },
        {
          "mark": {"type": "point", "filled": true, "opacity": 1},
          "encoding": {
            "fill": {"field": "g", "type": "nominal", "scale": {"domain": [2, 4, 6, 1, 3, 5], "range": ["#fc2454", "#4bd23a", "#c98a0c", "#34343f", "#1b62ff", "#9a6af9"]}, "legend": {
              "legendX": 110, "legendY": 437, "values": [2, 4, 6],
              "labelExpr": "'Gauge ' + datum.label",
              "encoding": {"symbols": {
                "shape": {"value": {"expr": "datum.value == 1 ? 'M-1,0H1M-0.165,-0.165H0.165V0.165H-0.165Z' : datum.value == 2 ? 'M-1,0H1M0.2,0A0.2,0.2,0,1,1,-0.2,0A0.2,0.2,0,1,1,0.2,0Z' : datum.value == 3 ? 'M-1,0H1M0,-0.25L0.23,0.12H-0.23Z' : datum.value == 4 ? 'M-1,0H1M0,0.25L0.23,-0.12H-0.23Z' : datum.value == 5 ? 'M-1,0H1M0,-0.23L0.23,0L0,0.23L-0.23,0Z' : 'M-1,0H1M-0.22,0L0.14,-0.22V0.22Z'"}},
                "fill": {"value": {"expr": "['#34343f', '#fc2454', '#1b62ff', '#4bd23a', '#9a6af9', '#c98a0c'][datum.value - 1]"}},
                "stroke": {"value": {"expr": "['#34343f', '#fc2454', '#1b62ff', '#4bd23a', '#9a6af9', '#c98a0c'][datum.value - 1]"}},
                "strokeWidth": {"value": 3},
                "opacity": {"value": 1}
              }}
            }},
            "shape": {"field": "g", "type": "nominal", "scale": {"domain": [1, 2, 3, 4, 5, 6], "range": ["square", "circle", "triangle-up", "triangle-down", "diamond", "triangle-left"]}, "legend": null},
            "size": {"field": "g", "type": "nominal", "scale": {"domain": [1, 2, 3, 4, 5, 6], "range": [400, 440, 620, 620, 560, 620]}, "legend": null}
          }
        }
      ]
    },
    {
      "title": {"text": "(c) 2.0 m"},
      "width": 1016, "height": 734,
      "data": {"name": "c"},
      "encoding": {
        "x": {"field": "t", "type": "quantitative", "scale": {"domain": [0, 300], "nice": false}, "axis": {"values": [0, 50, 100, 150, 200, 250, 300], "title": "Time/ms", "titleFontWeight": "normal"}},
        "y": {"field": "v", "type": "quantitative", "scale": {"domain": [-5.03, 4.98], "nice": false, "zero": false}, "axis": {"values": [-4, -2, 0, 2, 4], "title": "Strain/10⁻⁴", "titleFontWeight": "normal", "labelExpr": "datum.value == 0 ? '0' : format(datum.value, '.1f')"}}
      },
      "layer": [
        {
          "mark": {"type": "line", "interpolate": "natural", "strokeWidth": 3},
          "encoding": {
            "stroke": {"field": "g", "type": "nominal", "scale": {"domain": [1, 2, 3, 4, 5, 6], "range": ["#34343f", "#fc2454", "#1b62ff", "#4bd23a", "#9a6af9", "#c98a0c"]}, "legend": {
              "legendX": 102, "legendY": 387, "values": [1, 3, 5],
              "labelExpr": "'Gauge ' + datum.label",
              "encoding": {"symbols": {
                "shape": {"value": {"expr": "datum.value == 1 ? 'M-1,0H1M-0.165,-0.165H0.165V0.165H-0.165Z' : datum.value == 2 ? 'M-1,0H1M0.2,0A0.2,0.2,0,1,1,-0.2,0A0.2,0.2,0,1,1,0.2,0Z' : datum.value == 3 ? 'M-1,0H1M0,-0.25L0.23,0.12H-0.23Z' : datum.value == 4 ? 'M-1,0H1M0,0.25L0.23,-0.12H-0.23Z' : datum.value == 5 ? 'M-1,0H1M0,-0.23L0.23,0L0,0.23L-0.23,0Z' : 'M-1,0H1M-0.22,0L0.14,-0.22V0.22Z'"}},
                "fill": {"value": {"expr": "['#34343f', '#fc2454', '#1b62ff', '#4bd23a', '#9a6af9', '#c98a0c'][datum.value - 1]"}},
                "stroke": {"value": {"expr": "['#34343f', '#fc2454', '#1b62ff', '#4bd23a', '#9a6af9', '#c98a0c'][datum.value - 1]"}},
                "strokeWidth": {"value": 3},
                "opacity": {"value": 1}
              }}
            }}
          }
        },
        {
          "mark": {"type": "point", "filled": true, "opacity": 1},
          "encoding": {
            "fill": {"field": "g", "type": "nominal", "scale": {"domain": [2, 4, 6, 1, 3, 5], "range": ["#fc2454", "#4bd23a", "#c98a0c", "#34343f", "#1b62ff", "#9a6af9"]}, "legend": {
              "legendX": 102, "legendY": 437, "values": [2, 4, 6],
              "labelExpr": "'Gauge ' + datum.label",
              "encoding": {"symbols": {
                "shape": {"value": {"expr": "datum.value == 1 ? 'M-1,0H1M-0.165,-0.165H0.165V0.165H-0.165Z' : datum.value == 2 ? 'M-1,0H1M0.2,0A0.2,0.2,0,1,1,-0.2,0A0.2,0.2,0,1,1,0.2,0Z' : datum.value == 3 ? 'M-1,0H1M0,-0.25L0.23,0.12H-0.23Z' : datum.value == 4 ? 'M-1,0H1M0,0.25L0.23,-0.12H-0.23Z' : datum.value == 5 ? 'M-1,0H1M0,-0.23L0.23,0L0,0.23L-0.23,0Z' : 'M-1,0H1M-0.22,0L0.14,-0.22V0.22Z'"}},
                "fill": {"value": {"expr": "['#34343f', '#fc2454', '#1b62ff', '#4bd23a', '#9a6af9', '#c98a0c'][datum.value - 1]"}},
                "stroke": {"value": {"expr": "['#34343f', '#fc2454', '#1b62ff', '#4bd23a', '#9a6af9', '#c98a0c'][datum.value - 1]"}},
                "strokeWidth": {"value": 3},
                "opacity": {"value": 1}
              }}
            }},
            "shape": {"field": "g", "type": "nominal", "scale": {"domain": [1, 2, 3, 4, 5, 6], "range": ["square", "circle", "triangle-up", "triangle-down", "diamond", "triangle-left"]}, "legend": null},
            "size": {"field": "g", "type": "nominal", "scale": {"domain": [1, 2, 3, 4, 5, 6], "range": [400, 440, 620, 620, 560, 620]}, "legend": null}
          }
        }
      ]
    }
  ]
}
